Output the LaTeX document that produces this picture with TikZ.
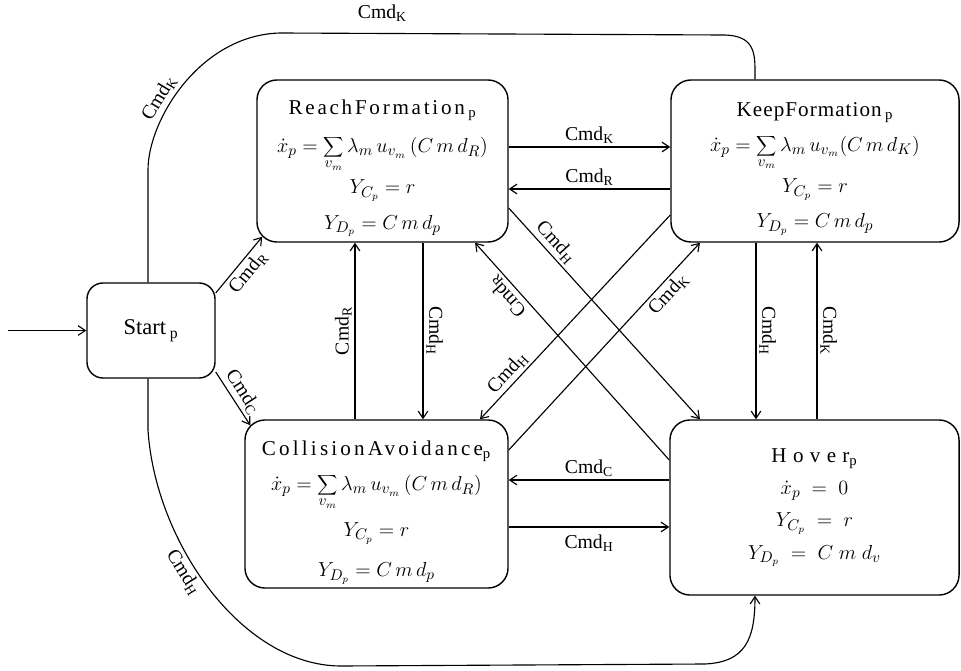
\documentclass[tikz,border=0pt]{standalone}
\usepackage{fontspec}
\setmainfont{Liberation Serif}
\usetikzlibrary{arrows.meta, calc}

\newcommand{\spaced}[2]{{\addfontfeatures{LetterSpace=#1}#2}}

\begin{document}
\begin{tikzpicture}[
    x=0.025cm, y=-0.025cm,
    state/.style={rectangle, draw, line width=1pt, rounded corners=0.5cm, align=center, inner sep=2pt, font=\fontsize{15}{19}\selectfont},
    arrow/.style={-{Straight Barb[length=1.8mm, width=2.4mm]}, line width=0.8pt},
    link/.style={line width=0.8pt},
    lbl/.style={font=\fontsize{14}{16}\selectfont, inner sep=2pt},
]
\useasboundingbox (0,0) rectangle (961,671);

% States
\node[state, rounded corners=0.4cm, minimum width=3.2cm, minimum height=2.375cm, font=\fontsize{16}{19}\selectfont] (start) at (151,330.5) {Start\,\textsubscript{p}};

\node[state, minimum width=6.275cm, minimum height=4.05cm] (reach) at (382.5,161) {%
    \mbox{}\\[2pt]
    \spaced{13}{ReachFormation}\,\textsubscript{p}\\[8pt]
    $\dot{x}_{p} = \displaystyle\sum_{v_m} \lambda_m\, u_{v_m} \,(C\,m\,d_R)$\\[5pt]
    $Y_{C_p} = r$\\[6pt]
    $Y_{D_p} = C\,m\,d_p$};

\node[state, minimum width=7.2cm, minimum height=4.05cm] (keep) at (815,161) {%
    \mbox{}\\[2pt]
    \spaced{5}{KeepFormation}\,\textsubscript{p}\\[6pt]
    $\dot{x}_{p} = \displaystyle\sum_{v_m} \lambda_m\, u_{v_m} (C\,m\,d_K)$\\[5pt]
    $Y_{C_p} = r$\\[6pt]
    $Y_{D_p} = C\,m\,d_p$};

\node[state, minimum width=6.575cm, minimum height=4.2cm] (coll) at (376.5,504) {%
    \mbox{}\\[4pt]
    \spaced{15}{CollisionAvoidance}\textsubscript{p}\\[6pt]
    $\dot{x}_{p} = \displaystyle\sum_{v_m} \lambda_m\, u_{v_m} \,(C\,m\,d_R)$\\[8pt]
    $Y_{C_p} = r$\\[10pt]
    $Y_{D_p} = C\,m\,d_p$};

\node[state, minimum width=7.225cm, minimum height=4.375cm] (hover) at (814.5,507.5) {%
    \spaced{30}{Hover}\textsubscript{p}\\[4pt]
    $\dot{x}_{p} \;=\; 0$\\[4pt]
    $Y_{C_p} \;=\; r$\\[4pt]
    $Y_{D_p} \;=\; C\;m\;d_v$};

% Entry
\coordinate (entry) at (8,330.5);
\draw[arrow] (entry) -- (start.west);

% Transitions from Start
\draw[arrow] (start.east |- 0,293) -- node[lbl, sloped, below] {Cmd\textsubscript{R}} ($(reach.south west)+(6,-6)$);
\draw[arrow] (start.east |- 0,372) -- node[lbl, sloped, above] {Cmd\textsubscript{C}} ($(coll.north west)+(6,6)$);
\draw[link] (start.north -| 148,0) -- (148,170)
    .. controls (148,120) and (200,35) .. node[lbl, pos=.38, sloped, above] {Cmd\textsubscript{K}} (280,33)
    -- node[lbl, pos=.23, above=6pt] {Cmd\textsubscript{K}} (725,35)
    .. controls (752,36) and (755,50) .. (755,70) -- (keep.north -| 755,0);
\draw[arrow] (start.south -| 148,0) -- (148,430)
    .. controls (155,540) and (240,665) .. node[lbl, pos=.42, sloped, below] {Cmd\textsubscript{H}} (340,666)
    -- (705,664) .. controls (745,662) and (755,640) .. (hover.south -| 755,0);

% Horizontal transitions
\draw[arrow] (reach.east |- 0,147) -- node[lbl, above] {Cmd\textsubscript{K}} (keep.west |- 0,147);
\draw[arrow] (keep.west |- 0,189) -- node[lbl, above] {Cmd\textsubscript{R}} (reach.east |- 0,189);
\draw[arrow] (hover.west |- 0,480) -- node[lbl, above] {Cmd\textsubscript{C}} (coll.east |- 0,480);
\draw[arrow] (coll.east |- 0,527) -- node[lbl, below=3pt] {Cmd\textsubscript{H}} (hover.west |- 0,527);

% Vertical transitions
\draw[arrow] (coll.north -| 355,0) -- node[lbl, rotate=90, above] {Cmd\textsubscript{R}} (reach.south -| 355,0);
\draw[arrow] (reach.south -| 423,0) -- node[lbl, rotate=-90, above] {Cmd\textsubscript{H}} (coll.north -| 423,0);
\draw[arrow] (keep.south -| 756,0) -- node[lbl, rotate=-90, above] {Cmd\textsubscript{H}} (hover.north -| 756,0);
\draw[arrow] (hover.north -| 817,0) -- node[lbl, rotate=-90, above] {Cmd\textsubscript{K}} (keep.south -| 817,0);

% Diagonal transitions
\draw[arrow] (reach.east |- 0,208) -- node[lbl, pos=.2, sloped, above] {Cmd\textsubscript{H}} (700,0 |- hover.north);
\draw[arrow] (hover.west |- 0,460) -- node[lbl, pos=.79, sloped, allow upside down, above] {Cmd\textsubscript{R}} (475,0 |- reach.south);
\draw[arrow] (keep.west |- 0,215) -- node[lbl, pos=.81, sloped, above] {Cmd\textsubscript{H}} (480,0 |- coll.north);
\draw[arrow] (coll.east |- 0,450) -- node[lbl, pos=.79, sloped, below] {Cmd\textsubscript{K}} (700,0 |- keep.south);

\end{tikzpicture}
\end{document}
